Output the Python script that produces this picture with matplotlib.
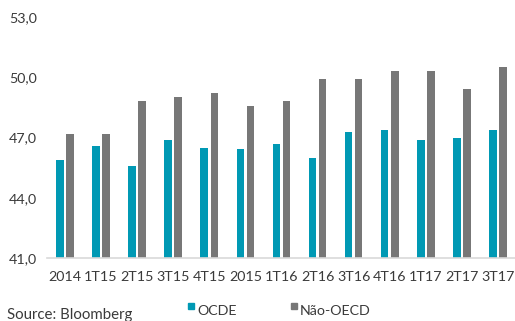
import numpy as np
import matplotlib.pyplot as plt
from matplotlib.patches import Rectangle

categories = ["2014", "1T15", "2T15", "3T15", "4T15", "2015", "1T16",
              "2T16", "3T16", "4T16", "1T17", "2T17", "3T17"]
ocde = [45.9, 46.6, 45.6, 46.9, 46.5, 46.45, 46.7, 46.0, 47.3, 47.4, 46.9, 47.0, 47.4]
nao_oecd = [47.2, 47.2, 48.8, 49.0, 49.2, 48.55, 48.8, 49.9, 49.9, 50.3, 50.3, 49.4, 50.5]
yticks = [41.0, 44.0, 47.0, 50.0, 53.0]

teal = "#0099B4"
grey = "#777777"
txt = "#3a3a3a"

plt.rcParams["font.family"] = ["Lato", "DejaVu Sans"]

fig = plt.figure(figsize=(5.15, 3.21), dpi=100)
ax = fig.add_axes([0.091, 0.196, 0.911, 0.751])

x = np.arange(len(categories))
w = 0.21
ax.bar(x - 0.14, np.array(ocde) - 41, w, bottom=41, color=teal, label="OCDE")
ax.bar(x + 0.14, np.array(nao_oecd) - 41, w, bottom=41, color=grey, label="Não-OECD")

ax.set_xlim(-0.5, len(categories) - 0.5)
ax.set_ylim(41, 53)
ax.set_yticks(yticks)
ax.set_yticklabels([f"{v:.1f}".replace(".", ",") for v in yticks], color=txt, fontsize=10.3)
ax.set_xticks(x)
ax.set_xticklabels(categories, color=txt, fontsize=10.3)
ax.tick_params(length=0)
ax.tick_params(axis="x", pad=9)
ax.tick_params(axis="y", pad=7)

for s in ["top", "right", "left"]:
    ax.spines[s].set_visible(False)
ax.spines["bottom"].set_color("#d9d9d9")
ax.spines["bottom"].set_linewidth(1.2)

# legend
fig.patches.append(Rectangle((188 / 515, 1 - 309 / 321), 6 / 515, 6 / 321,
                             transform=fig.transFigure, color=teal))
fig.text(197 / 515, 1 - 311 / 321, "OCDE", fontsize=10.3, color=txt, va="center")
fig.patches.append(Rectangle((291 / 515, 1 - 309 / 321), 6 / 515, 6 / 321,
                             transform=fig.transFigure, color=grey))
fig.text(300 / 515, 1 - 311 / 321, "Não-OECD", fontsize=10.3, color=txt, va="center")

fig.text(7 / 515, 1 - 319 / 321, "Source: Bloomberg", fontsize=10.8, color=txt, va="baseline")

fig.savefig("out.png", dpi=100)
